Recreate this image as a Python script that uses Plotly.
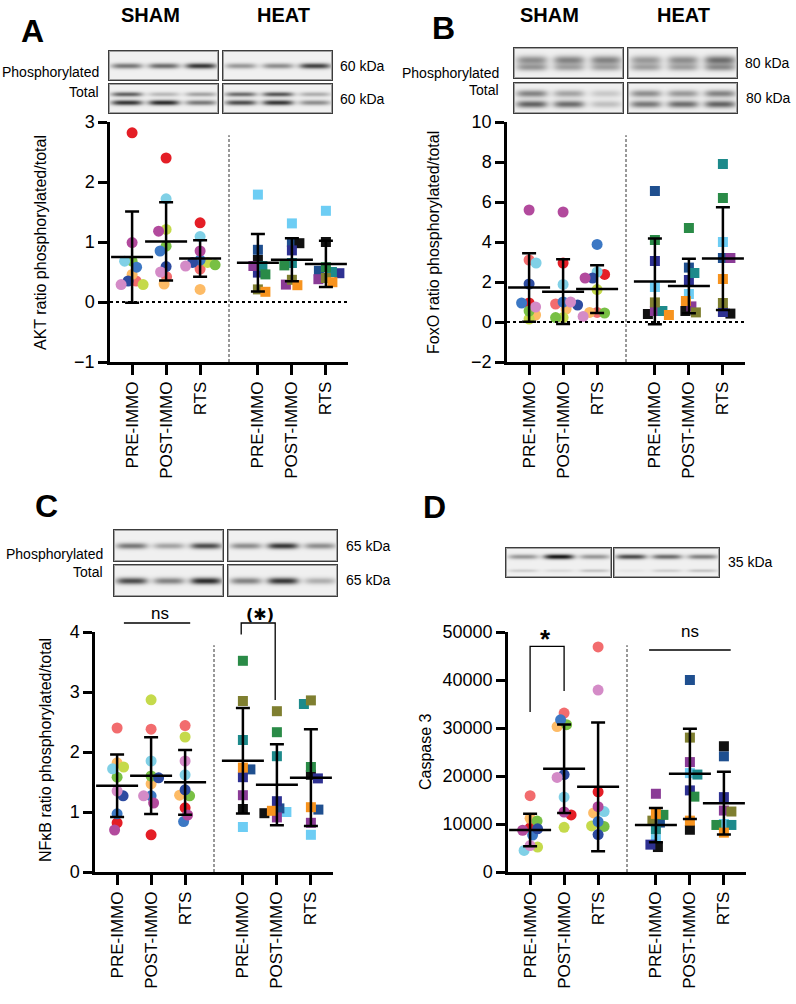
import numpy as np
import plotly.graph_objects as go

# figure size in px (paper coords are derived from these)
FIG_W, FIG_H = 796, 1004
FONT = "Liberation Sans, Arial, sans-serif"

CATS = ["PRE-IMMO", "POST-IMMO", "RTS"]

# subject colours (sham = circles, heat = squares)
SHAM_COLORS = ["#e41e26", "#f26c6e", "#fdbb66", "#c5da4b", "#78c044",
               "#80d0e6", "#3c78c4", "#2d4ba0", "#b24a9d", "#d48bc7"]
HEAT_COLORS = ["#6dcdf4", "#1f4f8f", "#111111", "#2e3192", "#8a3b96",
               "#1d8a8b", "#2a8b47", "#7f7f30", "#f7931e"]

# values per group: [PRE-IMMO, POST-IMMO, RTS], ordered like the colour lists
akt_sham = [[2.82, 0.35, 0.46, 0.29, 0.68, 0.68, 0.58, 0.35, 0.99, 0.29],
            [2.40, 0.42, 0.30, 1.21, 0.93, 1.72, 0.85, 0.59, 1.18, 0.50],
            [1.32, 0.55, 0.21, 0.66, 0.62, 1.09, 0.70, 0.66, 0.85, 0.60]]
akt_heat = [[1.79, 0.87, 0.70, 0.49, 0.60, 0.60, 0.46, 0.21, 0.17],
            [1.31, 1.00, 0.98, 0.86, 0.29, 0.65, 0.61, 0.37, 0.28],
            [1.52, 0.52, 1.00, 0.48, 0.38, 0.50, 0.58, 0.40, 0.33]]

foxo_sham = [[0.95, 3.10, 0.35, 0.15, 0.55, 2.95, 0.95, 1.90, 5.60, 0.75],
             [2.95, 0.90, 0.65, 0.22, 0.22, 1.88, 1.00, 0.85, 5.50, 1.00],
             [2.38, 0.48, 0.48, 1.62, 0.45, 2.50, 3.88, 2.20, 2.20, 0.28]]
foxo_heat = [[1.75, 6.55, 0.40, 3.05, 0.55, 0.55, 4.10, 0.98, 0.35],
             [1.40, 2.72, 0.55, 2.10, 0.78, 2.45, 4.70, 0.48, 1.05],
             [4.00, 3.20, 0.42, 0.50, 3.20, 7.90, 6.20, 0.95, 2.15]]

nfkb_sham = [[0.82, 2.40, 1.82, 1.75, 1.58, 1.72, 0.97, 1.27, 0.70, 1.35],
             [0.62, 2.38, 1.47, 2.87, 1.60, 1.85, 1.27, 1.57, 1.15, 1.27],
             [1.07, 2.44, 1.28, 2.25, 1.27, 1.62, 0.84, 1.37, 0.95, 1.85]]
nfkb_heat = [[0.75, 1.71, 1.05, 1.58, 1.28, 2.20, 3.52, 2.85, 1.74],
             [1.00, 1.06, 0.98, 1.18, 0.91, 1.93, 2.33, 2.68, 1.02],
             [0.62, 1.04, 1.62, 1.56, 0.82, 2.80, 1.75, 2.86, 1.08]]

casp_sham = [[9200, 15900, 11200, 5200, 10600, 4500, 7700, 9000, 8700, 5500],
             [11900, 33100, 30300, 9300, 30700, 15600, 31700, 20300, 12500, 19700],
             [16700, 46900, 12300, 9600, 9500, 12600, 10500, 7800, 13600, 37900]]
casp_heat = [[6800, 10300, 5200, 5700, 16300, 8900, 11900, 10700, 12100],
             [20600, 40000, 8800, 17000, 22900, 20300, 15700, 28000, 10700],
             [10000, 24100, 26200, 15600, 12800, 9800, 9800, 12600, 8200]]

# western blot band darkness per lane (sham x3, heat x3): (row position, darkness, blur)
blot_akt = [[(0.50, [0.55, 0.60, 0.85, 0.40, 0.45, 0.80], 2.0)],
            [(0.35, [0.65, 0.25, 0.35, 0.60, 0.70, 0.30], 1.7),
             (0.62, [0.85, 0.90, 0.55, 0.75, 0.85, 0.45], 1.9)]]
blot_foxo = [[(0.40, [0.45, 0.50, 0.50, 0.40, 0.45, 0.60], 3.2),
              (0.62, [0.40, 0.35, 0.35, 0.35, 0.35, 0.45], 2.6)],
             [(0.35, [0.50, 0.35, 0.18, 0.45, 0.40, 0.50], 2.6),
              (0.68, [0.65, 0.60, 0.22, 0.55, 0.60, 0.65], 2.6)]]
blot_nfkb = [[(0.50, [0.55, 0.35, 0.75, 0.45, 0.85, 0.45], 2.2)],
             [(0.50, [0.75, 0.50, 0.90, 0.50, 0.85, 0.30], 2.4)]]
blot_casp = [[(0.30, [0.40, 1.00, 0.40, 0.75, 0.60, 0.50], 1.8),
              (0.75, [0.15, 0.10, 0.20, 0.05, 0.15, 0.20], 1.2)]]


def px(x, y):
    return x / FIG_W, 1 - y / FIG_H


def swarm(vals, ppu_y, ppu_x=34.0, d=7.5):
    # simple deterministic beeswarm, offsets returned in x data units
    n = len(vals)
    order = sorted(range(n), key=lambda i: -vals[i])
    placed, offs = [], [0.0] * n
    for j, i in enumerate(order):
        y = vals[i] * ppu_y
        k, ok = 0, None
        while ok is None:
            sgn = 1 if j % 2 == 0 else -1
            cands = [0.0] if k == 0 else [sgn * k * 0.5, -sgn * k * 0.5]
            for o in cands:
                if all((o - po) ** 2 + (y - py) ** 2 >= d * d for po, py in placed):
                    ok = o
                    break
            k += 1
        placed.append((ok, y))
        offs[i] = ok / ppu_x
    return offs


def blot_image(bw, bh, gap_x, gap_y, rows):
    n_rows = len(rows)
    W = 2 * bw + gap_x
    H = n_rows * bh + (n_rows - 1) * gap_y
    img = np.full((H, W), 255.0)
    yy, xx = np.mgrid[0:bh, 0:bw]
    for r, bands in enumerate(rows):
        for b in range(2):
            clear = np.ones((bh, bw))
            for rel_y, dark, sig in bands:
                for lane in range(3):
                    dk = dark[b * 3 + lane]
                    cx = bw * (2 * lane + 1) / 6
                    pxp = np.exp(-np.abs((xx - cx) / (bw * 0.14)) ** 4)
                    pyp = np.exp(-0.5 * ((yy - rel_y * bh) / sig) ** 2)
                    clear *= 1 - dk * pxp * pyp
            cell = 240.0 * clear + 25.0 * (1 - clear)
            cell[1, 1:-1] = cell[-2, 1:-1] = 160
            cell[1:-1, 1] = cell[1:-1, -2] = 160
            cell[0, :] = cell[-1, :] = 60
            cell[:, 0] = cell[:, -1] = 60
            y0 = r * (bh + gap_y)
            x0 = b * (bw + gap_x)
            img[y0:y0 + bh, x0:x0 + bw] = cell
    return np.stack([img] * 3, axis=-1).round().astype(int)


X_POS = [0, 1, 2, 3.7, 4.7, 5.7]
X_RANGE = [-0.65, 6.35]

panels = [
    dict(sham=akt_sham, heat=akt_heat, box=(110, 122, 348, 362), yr=[-1, 3], dt=1,
         title="AKT ratio phosphorylated/total", tpos=(40, 243), zero=True),
    dict(sham=foxo_sham, heat=foxo_heat, box=(507, 122, 745, 362), yr=[-2, 10], dt=2,
         title="FoxO ratio phosphorylated/total", tpos=(433, 243), zero=True),
    dict(sham=nfkb_sham, heat=nfkb_heat, box=(95, 632, 333, 872), yr=[0, 4], dt=1,
         title="NFκB ratio phosphorylated/total", tpos=(45, 750), zero=False),
    dict(sham=casp_sham, heat=casp_heat, box=(508, 632, 746, 872), yr=[0, 50000], dt=10000,
         title="Caspase 3", tpos=(425, 751), zero=False),
]

fig = go.Figure()
layout = dict(width=FIG_W, height=FIG_H, margin=dict(l=0, r=0, t=0, b=0, pad=0),
              autosize=False, paper_bgcolor="white", plot_bgcolor="white", showlegend=False,
              font=dict(family=FONT, color="black"))
shapes, annotations = [], []

for k, p in enumerate(panels):
    n = k + 1
    xa, ya = ("x" if n == 1 else f"x{n}"), ("y" if n == 1 else f"y{n}")
    l, t, r, b = p["box"]
    ppu_y = (b - t) / (p["yr"][1] - p["yr"][0])
    ppu_x = (r - l) / (X_RANGE[1] - X_RANGE[0])
    groups = [(v, SHAM_COLORS, "circle", 11) for v in p["sham"]] + \
             [(v, HEAT_COLORS, "square", 10) for v in p["heat"]]
    means, sds = [], []
    for gi, (vals, cols, sym, size) in enumerate(groups):
        offs = swarm(vals, ppu_y, ppu_x)
        fig.add_trace(go.Scatter(
            x=[X_POS[gi] + o for o in offs], y=vals, mode="markers",
            marker=dict(color=cols[:len(vals)], symbol=sym, size=size, line=dict(width=0)),
            xaxis=xa, yaxis=ya, hoverinfo="skip", cliponaxis=False))
        means.append(float(np.mean(vals)))
        sds.append(float(np.std(vals, ddof=1)))
    fig.add_trace(go.Scatter(
        x=X_POS, y=means, mode="markers",
        marker=dict(symbol="line-ew", size=30, color="black",
                    line=dict(color="black", width=2.5)),
        error_y=dict(type="data", array=sds, color="black", thickness=2.5, width=7),
        xaxis=xa, yaxis=ya, hoverinfo="skip", cliponaxis=False))

    x0, y1 = px(l, t)
    x1, y0 = px(r, b)
    axis_line = dict(showline=True, linewidth=2.5, linecolor="black", showgrid=False,
                     zeroline=False, ticks="outside", tickwidth=2.5, tickcolor="black",
                     fixedrange=True, automargin=False)
    layout["xaxis" if n == 1 else f"xaxis{n}"] = dict(
        domain=[x0, x1], range=X_RANGE, anchor=ya, tickvals=X_POS,
        ticktext=CATS + CATS, tickangle=-90, ticklen=10,
        tickfont=dict(size=17, family=FONT), **axis_line)
    layout["yaxis" if n == 1 else f"yaxis{n}"] = dict(
        domain=[y0, y1], range=p["yr"], anchor=xa, dtick=p["dt"], tick0=0,
        tickformat="d", ticklen=9, tickfont=dict(size=18, family=FONT), **axis_line)

    # divider between SHAM and HEAT
    shapes.append(dict(type="line", xref=xa, yref=f"{ya} domain", x0=2.85, x1=2.85,
                       y0=0, y1=0.945, line=dict(color="#333", width=1, dash="3px,2px")))
    if p["zero"]:
        shapes.append(dict(type="line", xref=f"{xa} domain", yref=ya, x0=0, x1=1,
                           y0=0, y1=0, line=dict(color="black", width=2.2, dash="dot")))
    tx, ty = px(*p["tpos"])
    annotations.append(dict(text=p["title"], x=tx, y=ty, xref="paper", yref="paper",
                            xanchor="center", yanchor="middle",
                            textangle=-90, showarrow=False, font=dict(size=16)))

# significance marks (panel C -> x3, panel D -> x4)
sig_line = dict(color="black", width=1.3)
shapes += [
    dict(type="line", xref="x3", yref="y3 domain", x0=0.2, x1=2.15, y0=1.0375, y1=1.0375, line=sig_line),
    dict(type="path", xref="x3", yref="y3 domain",
         path="M 3.65,0.99 L 3.65,1.0375 L 4.65,1.0375 L 4.65,0.717", line=sig_line),
    dict(type="path", xref="x4", yref="y4 domain",
         path="M 0,0.667 L 0,0.94 L 1,0.94 L 1,0.754", line=sig_line),
    dict(type="line", xref="x4", yref="y4 domain", x0=3.5, x1=5.9, y0=0.925, y1=0.925, line=sig_line),
]
annotations += [
    dict(text="ns", x=1.25, y=1.125, xref="x3", yref="y3 domain", showarrow=False, font=dict(size=17)),
    dict(text="<b>(</b>✱<b>)</b>", x=4.2, y=1.12, xref="x3", yref="y3 domain", showarrow=False,
         font=dict(size=16, family="DejaVu Sans")),
    dict(text="<b>*</b>", x=0.45, y=1.04, xref="x4", yref="y4 domain", showarrow=False,
         font=dict(size=26)),
    dict(text="ns", x=4.7, y=1.05, xref="x4", yref="y4 domain", showarrow=False, font=dict(size=17)),
]

# western blots as images on their own hidden axes
blots = [
    (blot_akt, 108, 50, 111, 31, 3, 2),
    (blot_foxo, 513, 47, 111, 32, 3, 3),
    (blot_nfkb, 113, 529, 111, 33, 3, 2),
    (blot_casp, 505, 547, 107, 31, 1, 0),
]
for j, (rows, bx, by, bw, bh, gx, gy) in enumerate(blots):
    n = 5 + j
    img = blot_image(bw, bh, gx, gy, rows)
    H, W = img.shape[0], img.shape[1]
    fig.add_trace(go.Image(z=img.tolist(), xaxis=f"x{n}", yaxis=f"y{n}", hoverinfo="skip"))
    x0, y1 = px(bx, by)
    x1, y0 = px(bx + W, by + H)
    layout[f"xaxis{n}"] = dict(domain=[x0, x1], range=[-0.5, W - 0.5], visible=False,
                               anchor=f"y{n}", fixedrange=True, automargin=False)
    layout[f"yaxis{n}"] = dict(domain=[y0, y1], range=[H - 0.5, -0.5], visible=False,
                               anchor=f"x{n}", fixedrange=True, automargin=False)

# text around the blots
labels = [
    ("A", 32, 31, 32, True, "center"), ("B", 443, 28, 32, True, "center"),
    ("C", 46, 506, 32, True, "center"), ("D", 434, 507, 32, True, "center"),
    ("SHAM", 150, 15, 20, True, "center"), ("HEAT", 283, 15, 20, True, "center"),
    ("SHAM", 549, 15, 20, True, "center"), ("HEAT", 683, 15, 20, True, "center"),
    ("Phosphorylated", 101, 72, 14, False, "right"), ("Total", 101, 92, 14, False, "right"),
    ("Phosphorylated", 501, 73, 14, False, "right"), ("Total", 501, 90, 14, False, "right"),
    ("Phosphorylated", 105, 554, 14, False, "right"), ("Total", 105, 572, 14, False, "right"),
    ("60 kDa", 338, 66, 14, False, "left"), ("60 kDa", 338, 99, 14, False, "left"),
    ("80 kDa", 743, 63, 14, False, "left"), ("80 kDa", 744, 98, 14, False, "left"),
    ("65 kDa", 344, 546, 14, False, "left"), ("65 kDa", 344, 580, 14, False, "left"),
    ("35 kDa", 726, 562, 14, False, "left"),
]
for txt, x, y, size, bold, anchor in labels:
    ax, ay = px(x, y)
    annotations.append(dict(text=f"<b>{txt}</b>" if bold else txt, x=ax, y=ay,
                            xref="paper", yref="paper", xanchor=anchor, yanchor="middle",
                            showarrow=False, font=dict(size=size)))

layout["shapes"] = shapes
layout["annotations"] = annotations
fig.update_layout(**layout)
fig.write_html("out.html", config={"displayModeBar": False},
               post_script="document.body.style.margin='0';document.body.style.overflow='hidden';")
